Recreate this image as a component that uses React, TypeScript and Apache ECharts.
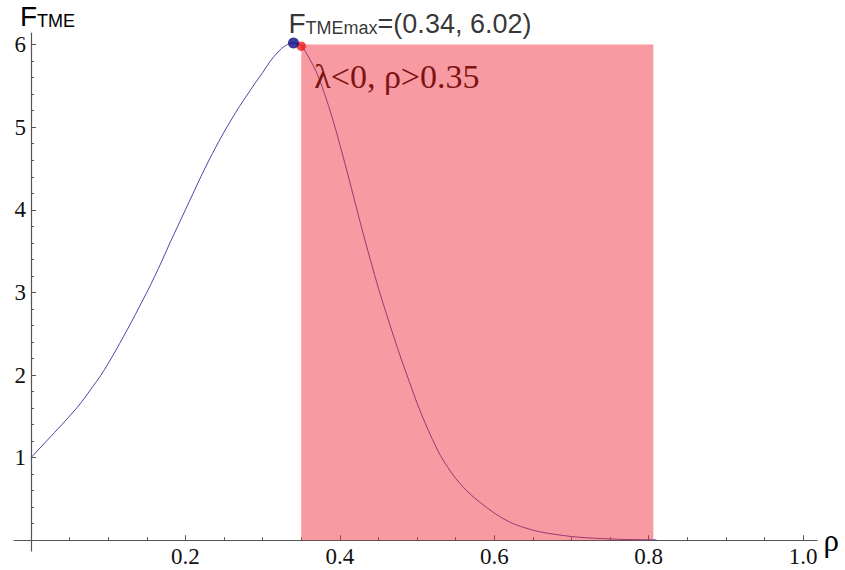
import React, { useEffect, useRef } from "react";
import * as echarts from "echarts";

// Curve samples (rho, F_TME)
const rhoValues = [0, 0.02, 0.04, 0.06, 0.07, 0.08, 0.09, 0.1, 0.11, 0.12, 0.13, 0.14, 0.15, 0.16, 0.17, 0.18, 0.19, 0.2, 0.21, 0.22, 0.23, 0.24, 0.25, 0.26, 0.27, 0.28, 0.29, 0.3, 0.31, 0.32, 0.33, 0.34, 0.35, 0.36, 0.37, 0.38, 0.39, 0.4, 0.41, 0.42, 0.43, 0.44, 0.45, 0.46, 0.47, 0.48, 0.49, 0.5, 0.51, 0.52, 0.53, 0.54, 0.55, 0.56, 0.57, 0.58, 0.6, 0.62, 0.64, 0.66, 0.68, 0.7, 0.72, 0.74, 0.76, 0.78, 0.81];
const fValues = [1.0, 1.2, 1.4, 1.61, 1.73, 1.86, 1.99, 2.14, 2.3, 2.47, 2.64, 2.82, 3.0, 3.19, 3.39, 3.6, 3.8, 4.0, 4.2, 4.4, 4.59, 4.77, 4.94, 5.1, 5.25, 5.39, 5.53, 5.66, 5.8, 5.91, 5.99, 6.02, 5.98, 5.84, 5.66, 5.41, 5.12, 4.79, 4.44, 4.08, 3.72, 3.38, 3.05, 2.75, 2.46, 2.18, 1.92, 1.66, 1.43, 1.22, 1.03, 0.88, 0.75, 0.64, 0.55, 0.47, 0.33, 0.22, 0.15, 0.1, 0.07, 0.045, 0.03, 0.02, 0.012, 0.008, 0.005];

const maxPoint = [0.34, 6.02];
const boundaryPoint = [0.35, 5.98];
const regionX = [0.35, 0.806];
const regionY = [0, 6.0];

const xTickLabels = [0.2, 0.4, 0.6, 0.8, 1.0];
const xTicks = [0, 0.2, 0.4, 0.6, 0.8, 1.0];
const yTickLabels = [1, 2, 3, 4, 5, 6];
const yTicks = [0, 1, 2, 3, 4, 5, 6];

const regionText = "λ<0, ρ>0.35";

export default function App() {
  const ref = useRef<HTMLDivElement>(null);
  useEffect(() => {
    if (!ref.current) return;
    const chart = echarts.init(ref.current, undefined, { renderer: "svg" });
    const curve = rhoValues.map((r, i) => [r, fValues[i]]);
    const axisColor = "#555";
    const serif = "'Liberation Serif', 'Times New Roman', serif";
    const sans = "'Liberation Sans', Arial, sans-serif";
    chart.setOption({
      animation: false,
      backgroundColor: "#ffffff",
      grid: { left: 14, right: 28, top: 33, bottom: 19, containLabel: false, outerBoundsMode: "none" },
      xAxis: {
        type: "value",
        min: -0.022,
        max: 1.018,
        minInterval: 0.2,
        maxInterval: 0.2,
        name: "ρ",
        nameLocation: "end",
        nameGap: 4,
        nameTextStyle: { fontFamily: serif, fontSize: 31, color: "#000", padding: [10, 0, 0, 0] },
        axisLine: { onZero: true, lineStyle: { color: axisColor, width: 1.2 } },
        axisTick: { inside: true, length: 5, lineStyle: { color: axisColor }, customValues: xTicks },
        minorTick: { show: true, splitNumber: 4, length: 3, lineStyle: { color: axisColor } },
        axisLabel: {
          customValues: xTickLabels,
          formatter: (v: number) => (xTickLabels.some((t) => Math.abs(t - v) < 1e-6) ? v.toFixed(1) : ""),
          margin: -6,
          fontFamily: serif,
          fontSize: 23,
          color: "#111",
        },
        splitLine: { show: false },
      },
      yAxis: {
        type: "value",
        min: -0.13,
        max: 6.14,
        minInterval: 1,
        maxInterval: 1,
        name: "{f|F}{s|TME}",
        nameLocation: "end",
        nameGap: 3,
        nameTextStyle: {
          padding: [0, 0, 0, 33],
          rich: {
            f: { fontFamily: sans, fontSize: 28, lineHeight: 28, verticalAlign: "bottom", color: "#000" },
            s: { fontFamily: sans, fontSize: 18, lineHeight: 21, verticalAlign: "bottom", color: "#000" },
          },
        },
        axisLine: { onZero: true, lineStyle: { color: axisColor, width: 1.2 } },
        axisTick: { inside: true, length: 5, lineStyle: { color: axisColor }, customValues: yTicks },
        minorTick: { show: true, splitNumber: 5, length: 3, lineStyle: { color: axisColor } },
        axisLabel: {
          customValues: yTickLabels,
          formatter: (v: number) => (yTickLabels.some((t) => Math.abs(t - v) < 1e-6) ? String(Math.round(v)) : ""),
          margin: -12,
          fontFamily: serif,
          fontSize: 23,
          color: "#111",
        },
        splitLine: { show: false },
      },
      series: [
        {
          type: "line",
          data: curve,
          symbol: "none",
          smooth: 0.35,
          z: 2,
          lineStyle: { color: "#4848a6", width: 1 },
          markArea: {
            z: 3,
            silent: true,
            itemStyle: { color: "rgba(240, 40, 55, 0.47)" },
            label: {
              show: true,
              position: [13, 15],
              fontFamily: serif,
              fontSize: 34,
              color: "#7d1313",
            },
            data: [
              [
                { name: regionText, xAxis: regionX[0], yAxis: regionY[0] },
                { xAxis: regionX[1], yAxis: regionY[1] },
              ],
            ],
          },
        },
        {
          type: "scatter",
          data: [boundaryPoint],
          symbol: "circle",
          symbolSize: 9.5,
          z: 4,
          itemStyle: { color: "#ee1a1a" },
        },
        {
          type: "scatter",
          data: [maxPoint],
          symbol: "circle",
          symbolSize: 11,
          z: 5,
          itemStyle: { color: "#0a0a80" },
          label: {
            show: true,
            position: "top",
            distance: 0,
            align: "left",
            offset: [-5, 0],
            formatter: `{f|F}{s|TMEmax}{n|=(${maxPoint[0].toFixed(2)}, ${maxPoint[1].toFixed(2)})}`,
            rich: {
              f: { fontFamily: sans, fontSize: 28, lineHeight: 28, verticalAlign: "bottom", color: "#000" },
              s: { fontFamily: sans, fontSize: 18, lineHeight: 21, verticalAlign: "bottom", color: "#000" },
              n: { fontFamily: sans, fontSize: 27, lineHeight: 27, verticalAlign: "bottom", color: "#000" },
            },
          },
        },
      ],
    });
    return () => chart.dispose();
  }, []);
  return (
    <div
      ref={ref}
      style={{ position: "fixed", left: 0, top: 0, width: 845, height: 570, background: "#fff" }}
    />
  );
}
